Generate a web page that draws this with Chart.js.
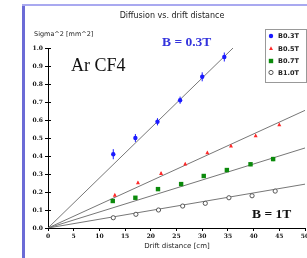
<!DOCTYPE html>
<html lang="en">
<head>
    <meta charset="UTF-8">
    <title>Diffusion vs. drift distance</title>
    <script src="https://cdn.jsdelivr.net/npm/chart.js"></script>
    <style>
        body { margin: 0; background: #fff; }
        .wrap { position: relative; width: 307px; height: 258px; overflow: hidden; }
        .frame-left { position: absolute; left: 22px; top: 4px; bottom: 0; width: 3px; background: #6b6bd6; }
        .frame-top { position: absolute; left: 22px; right: 0; top: 4px; height: 2px; background: #a9a9f0; }
        canvas { position: absolute; left: 0; top: 0; }
    </style>
</head>
<body>
<div class="wrap">
    <div class="frame-left"></div>
    <div class="frame-top"></div>
    <canvas id="diffChart" width="307" height="258"></canvas>
</div>
<script>
    // measured points (drift distance [cm], sigma^2 [mm^2])
    const seriesLabels = ['B0.3T', 'B0.5T', 'B0.7T', 'B1.0T'];
    const distB03 = [12.7, 17.0, 21.3, 25.7, 30.0, 34.3];
    const sigB03  = [0.41, 0.50, 0.59, 0.71, 0.84, 0.95];
    const errB03  = [0.028, 0.022, 0.02, 0.02, 0.025, 0.025];
    const distB05 = [13.0, 17.5, 22.0, 26.7, 31.0, 35.6, 40.4, 45.0];
    const sigB05  = [0.183, 0.252, 0.304, 0.356, 0.418, 0.456, 0.513, 0.574];
    const errB05  = [0.006, 0.006, 0.006, 0.006, 0.006, 0.006, 0.006, 0.006];
    const distB07 = [12.6, 17.0, 21.4, 25.9, 30.3, 34.8, 39.4, 43.8];
    const sigB07  = [0.15, 0.168, 0.216, 0.244, 0.289, 0.322, 0.354, 0.383];
    const errB07  = [0.01, 0.008, 0.01, 0.008, 0.008, 0.008, 0.01, 0.012];
    const distB10 = [12.7, 17.1, 21.5, 26.2, 30.6, 35.2, 39.7, 44.2];
    const sigB10  = [0.057, 0.076, 0.10, 0.122, 0.137, 0.168, 0.179, 0.205];
    const errB10  = [0.005, 0.005, 0.005, 0.005, 0.005, 0.005, 0.005, 0.005];

    // fitted lines through the origin: end points
    const fitEndX = [36.0, 50.5, 50.5, 50.5];
    const fitEndY = [1.0, 0.66, 0.449, 0.246];

    const xTicks = [0, 5, 10, 15, 20, 25, 30, 35, 40, 45, 50];
    const yTicks = [0, 0.1, 0.2, 0.3, 0.4, 0.5, 0.6, 0.7, 0.8, 0.9, 1.0];

    const colors = ['#1a1aff', '#ff2a2a', '#0b8a0b', '#555555'];
    const styles = ['circle', 'triangle', 'rect', 'ring'];

    const toPts = (xs, ys) => xs.map((x, i) => ({ x: x, y: ys[i] }));
    const allX = [distB03, distB05, distB07, distB10];
    const allY = [sigB03, sigB05, sigB07, sigB10];
    const allErr = [errB03, errB05, errB07, errB10];

    const datasets = [];
    for (let i = 0; i < 4; i++) {
        datasets.push({
            label: 'fit' + i,
            data: [{ x: 0, y: 0 }, { x: fitEndX[i], y: fitEndY[i] }],
            showLine: true,
            borderColor: '#777',
            borderWidth: 1,
            pointRadius: 0,
            isFit: true
        });
    }
    for (let i = 0; i < 4; i++) {
        datasets.push({
            label: seriesLabels[i],
            data: toPts(allX[i], allY[i]),
            errs: allErr[i],
            mark: styles[i],
            markColor: colors[i],
            pointRadius: 0,
            showLine: false
        });
    }

    function drawMark(ctx, style, color, x, y) {
        ctx.save();
        ctx.fillStyle = color;
        ctx.strokeStyle = color;
        ctx.lineWidth = 1;
        ctx.beginPath();
        if (style === 'circle') {
            ctx.arc(x, y, 2.2, 0, Math.PI * 2);
            ctx.fill();
        } else if (style === 'triangle') {
            ctx.moveTo(x, y - 2.2);
            ctx.lineTo(x + 2, y + 1.6);
            ctx.lineTo(x - 2, y + 1.6);
            ctx.closePath();
            ctx.fill();
        } else if (style === 'rect') {
            ctx.rect(x - 2.2, y - 2.2, 4.4, 4.4);
            ctx.fill();
        } else {
            ctx.fillStyle = '#fff';
            ctx.arc(x, y, 2.1, 0, Math.PI * 2);
            ctx.fill();
            ctx.stroke();
        }
        ctx.restore();
    }

    const marksPlugin = {
        id: 'marks',
        afterDatasetsDraw(chart) {
            const ctx = chart.ctx;
            const xs = chart.scales.x, ys = chart.scales.y;
            chart.data.datasets.forEach(ds => {
                if (ds.isFit) return;
                ds.data.forEach((p, i) => {
                    const px = xs.getPixelForValue(p.x);
                    const py = ys.getPixelForValue(p.y);
                    const e = ds.errs[i];
                    ctx.save();
                    ctx.strokeStyle = ds.markColor;
                    ctx.lineWidth = 1;
                    ctx.beginPath();
                    ctx.moveTo(px, ys.getPixelForValue(p.y + e));
                    ctx.lineTo(px, ys.getPixelForValue(p.y - e));
                    ctx.stroke();
                    ctx.restore();
                    drawMark(ctx, ds.mark, ds.markColor, px, py);
                });
            });
            // y ticks also reach inside the axis
            ctx.save();
            ctx.strokeStyle = '#000';
            ctx.lineWidth = 1;
            ctx.beginPath();
            yTicks.forEach(v => {
                const py = Math.round(ys.getPixelForValue(v)) + 0.5;
                ctx.moveTo(xs.left, py);
                ctx.lineTo(xs.left + 3, py);
            });
            ctx.stroke();
            ctx.restore();
        }
    };

    const textPlugin = {
        id: 'texts',
        afterDraw(chart) {
            const ctx = chart.ctx;
            ctx.save();
            ctx.textBaseline = 'middle';
            ctx.fillStyle = '#222';
            ctx.textAlign = 'center';
            ctx.font = '8px "DejaVu Sans"';
            ctx.fillText('Diffusion vs. drift distance', 172, 16);
            ctx.font = '7px "DejaVu Sans"';
            ctx.fillText('Drift distance [cm]', 177, 246);
            ctx.textAlign = 'left';
            ctx.font = '6.5px "DejaVu Sans"';
            ctx.fillText('Sigma^2 [mm^2]', 34, 34);

            ctx.fillStyle = '#111';
            ctx.font = '18px "Liberation Serif"';
            ctx.fillText('Ar CF4', 71, 66);
            ctx.font = 'bold 13.5px "Liberation Serif"';
            ctx.fillStyle = '#3333dd';
            ctx.fillText('B = 0.3T', 162, 43);
            ctx.fillStyle = '#111';
            ctx.fillText('B = 1T', 252, 215);

            // legend box
            ctx.fillStyle = '#fff';
            ctx.fillRect(265, 29, 41, 53);
            ctx.strokeStyle = '#999';
            ctx.lineWidth = 1;
            ctx.strokeRect(265.5, 29.5, 41, 53);
            ctx.font = 'bold 6.5px "DejaVu Sans"';
            const rowY = [36, 48.5, 61, 72.5];
            chart.data.datasets.filter(d => !d.isFit).forEach((ds, i) => {
                drawMark(ctx, ds.mark, ds.markColor, 271, rowY[i]);
                ctx.fillStyle = '#222';
                ctx.fillText(ds.label, 278, rowY[i] + 0.5);
            });
            ctx.restore();
        }
    };

    const tickFont = { family: '"DejaVu Serif"', size: 6, weight: 'bold' };

    new Chart(document.getElementById('diffChart'), {
        type: 'scatter',
        data: { datasets: datasets },
        plugins: [marksPlugin, textPlugin],
        options: {
            responsive: false,
            animation: false,
            events: [],
            layout: { padding: { left: 0, top: 48, right: 2, bottom: 0 } },
            plugins: { legend: { display: false }, tooltip: { enabled: false } },
            scales: {
                x: {
                    type: 'linear',
                    min: 0, max: 50,
                    afterBuildTicks(s) { s.ticks = xTicks.map(v => ({ value: v })); },
                    afterFit(s) { s.height = 30; s.paddingLeft = 0; s.paddingRight = 0; },
                    border: { color: '#000', width: 1 },
                    grid: { drawOnChartArea: false, tickLength: 3, color: '#000' },
                    ticks: { font: tickFont, color: '#111', padding: 2, maxRotation: 0,
                             callback: v => String(v) }
                },
                y: {
                    type: 'linear',
                    min: 0, max: 1,
                    afterBuildTicks(s) { s.ticks = yTicks.map(v => ({ value: v })); },
                    afterFit(s) { s.width = 48; s.paddingTop = 0; s.paddingBottom = 0; },
                    border: { color: '#000', width: 1 },
                    grid: { drawOnChartArea: false, tickLength: 3, color: '#000' },
                    ticks: { font: tickFont, color: '#111', padding: 2,
                             callback: v => v.toFixed(1) }
                }
            }
        }
    });
</script>
</body>
</html>
